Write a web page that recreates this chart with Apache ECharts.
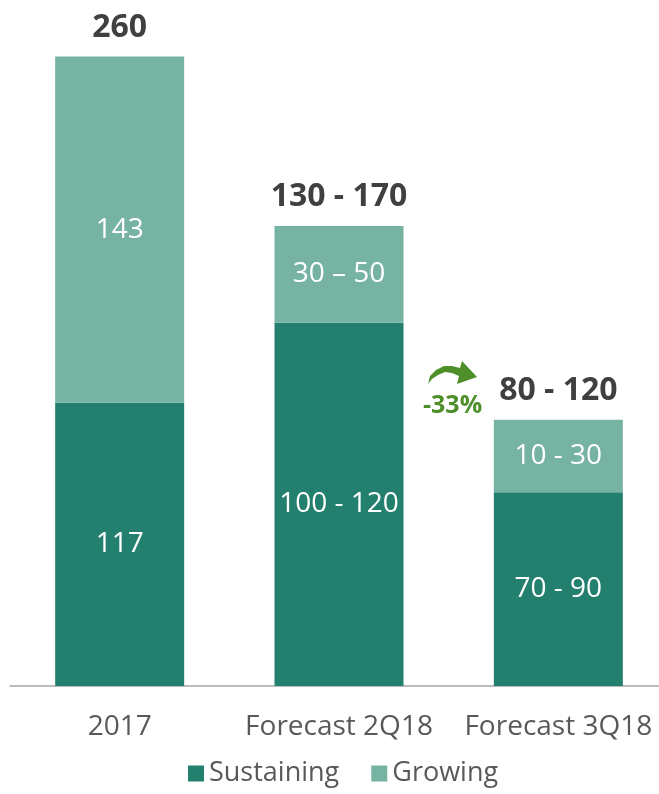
<!DOCTYPE html>
<html>
<head>
<meta charset="utf-8">
<script src="https://cdn.jsdelivr.net/npm/echarts@6/dist/echarts.min.js"></script>
<style>
  html, body { margin: 0; padding: 0; background: #fff; }
  #chart { width: 659px; height: 794px; }
</style>
</head>
<body>
<div id="chart"></div>
<script>
// categories and values (bar heights)
const categories = ['2017', 'Forecast 2Q18', 'Forecast 3Q18'];
const sustaining = [117, 150, 80];
const growing = [143, 40, 30];
// printed labels
const sustainingLabels = ['117', '100 - 120', '70 - 90'];
const growingLabels = ['143', '30 \u2013 50', '10 - 30'];
const totalLabels = ['260', '130 - 170', '80 - 120'];

const FONT = '"Open Sans", Lato, sans-serif';
const DARK = '#237f6e';
const LIGHT = '#76b3a3';

const chart = echarts.init(document.getElementById('chart'));

const option = {
  backgroundColor: '#ffffff',
  animation: false,
  textStyle: { fontFamily: FONT },
  grid: { left: 10, width: 658, top: 8, bottom: 108, containLabel: false, outerBoundsMode: 'none' },
  legend: {
    bottom: 2,
    left: 183,
    itemWidth: 16,
    itemHeight: 16,
    itemGap: 32,
    icon: 'rect',
    textStyle: { fontSize: 27, color: '#595959', fontFamily: FONT },
    data: ['Sustaining', 'Growing'],
  },
  xAxis: {
    type: 'category',
    data: categories,
    axisLine: { lineStyle: { color: '#a6a6a6', width: 1.5 } },
    axisTick: { show: false },
    axisLabel: {
      fontSize: 28,
      color: '#595959',
      margin: 27,
      fontFamily: FONT,
      interval: 0,
      hideOverlap: false,
    },
  },
  yAxis: {
    type: 'value',
    min: 0,
    max: 280,
    show: false,
    splitLine: { show: false },
  },
  series: [
    {
      name: 'Sustaining',
      type: 'bar',
      stack: 'total',
      barWidth: 129,
      data: sustaining,
      itemStyle: { color: DARK },
      label: {
        show: true,
        position: 'inside',
        fontSize: 28,
        color: '#ffffff',
        fontFamily: FONT,
        formatter: p => sustainingLabels[p.dataIndex],
      },
    },
    {
      name: 'Growing',
      type: 'bar',
      stack: 'total',
      barWidth: 129,
      data: growing,
      itemStyle: { color: LIGHT },
      label: {
        show: true,
        position: 'inside',
        fontSize: 28,
        color: '#ffffff',
        fontFamily: FONT,
        formatter: p => growingLabels[p.dataIndex],
      },
    },
    // totals above each stack
    {
      name: 'Total',
      type: 'bar',
      stack: 'total',
      barWidth: 129,
      data: sustaining.map(() => 0),
      itemStyle: { color: 'transparent' },
      label: {
        show: true,
        position: 'top',
        distance: 13,
        fontSize: 32,
        fontWeight: 'bold',
        color: '#404040',
        fontFamily: FONT,
        formatter: p => totalLabels[p.dataIndex],
      },
    },
  ],
  graphic: [
    {
      type: 'polygon',
      shape: {
        points: [
          [428, 384], [430, 376], [436, 370], [444, 366], [452, 366], [460, 368],
          [462, 361], [477, 377], [457, 384], [459, 376],
          [452, 373], [445, 372], [438, 375], [432, 379],
        ],
      },
      style: { fill: '#4e8f2a' },
    },
    {
      type: 'text',
      left: 423,
      top: 393,
      style: {
        text: '-33%',
        fontSize: 25,
        fontWeight: 'bold',
        fill: '#4e8f2a',
        fontFamily: FONT,
      },
    },
  ],
};

chart.setOption(option);
</script>
</body>
</html>
